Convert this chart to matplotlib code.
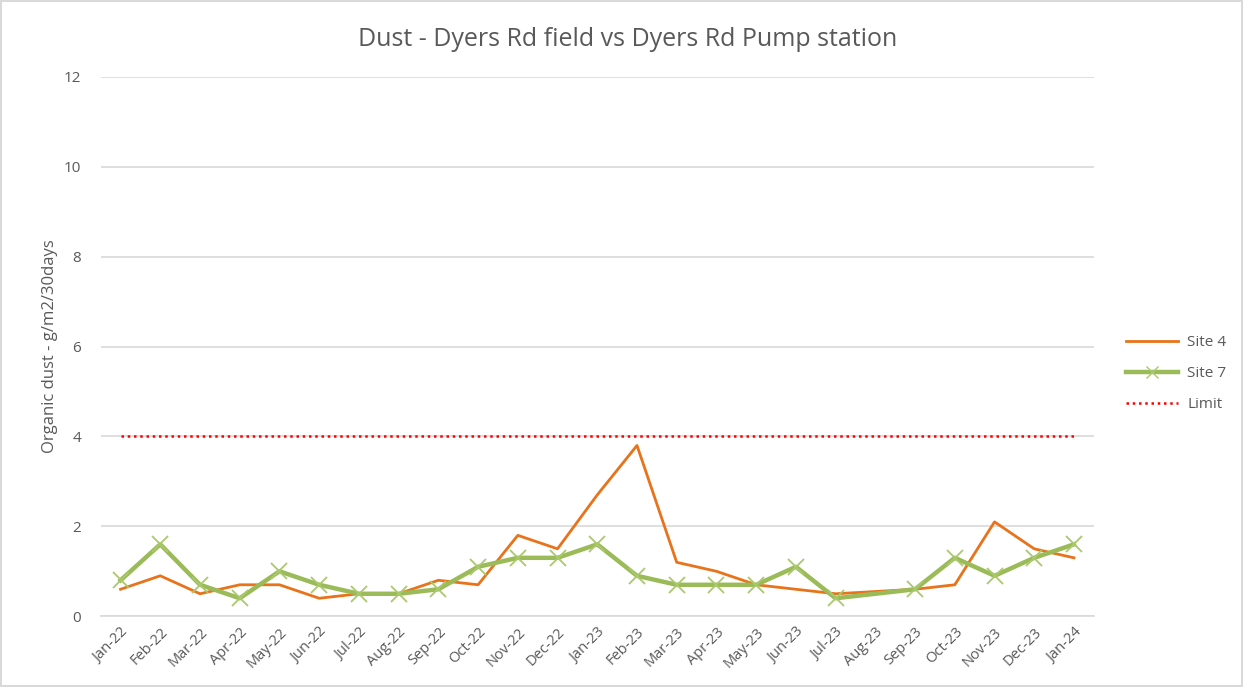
import numpy as np
import matplotlib.pyplot as plt
from matplotlib.lines import Line2D

plt.rcParams['font.family'] = ['Open Sans', 'DejaVu Sans']

months = ['Jan-22', 'Feb-22', 'Mar-22', 'Apr-22', 'May-22', 'Jun-22', 'Jul-22', 'Aug-22',
          'Sep-22', 'Oct-22', 'Nov-22', 'Dec-22', 'Jan-23', 'Feb-23', 'Mar-23', 'Apr-23',
          'May-23', 'Jun-23', 'Jul-23', 'Aug-23', 'Sep-23', 'Oct-23', 'Nov-23', 'Dec-23', 'Jan-24']
site4 = [0.6, 0.9, 0.5, 0.7, 0.7, 0.4, 0.5, 0.5, 0.8, 0.7, 1.8, 1.5, 2.7, 3.8, 1.2, 1.0,
         0.7, 0.6, 0.5, 0.55, 0.6, 0.7, 2.1, 1.5, 1.3]
site7 = [0.8, 1.6, 0.7, 0.4, 1.0, 0.7, 0.5, 0.5, 0.6, 1.1, 1.3, 1.3, 1.6, 0.9, 0.7, 0.7,
         0.7, 1.1, 0.4, np.nan, 0.6, 1.3, 0.9, 1.3, 1.6]
limit = [4] * len(months)

text_col = '#595959'
grid_col = '#d9d9d9'

fig = plt.figure(figsize=(12.43, 6.87), dpi=100)
fig.patch.set_edgecolor('#d9d9d9')
fig.patch.set_linewidth(1.5)
ax = fig.add_axes([0.081, 0.103, 0.799, 0.785])

x = np.arange(len(months))
s7 = np.array(site7)
ok = ~np.isnan(s7)

ax.plot(x, site4, color='#e8731a', lw=2, zorder=3)
ax.plot(x[ok], s7[ok], color='#9bbb59', lw=3.2, marker='x', ms=11, mew=1.3,
        mec='#a9c96c', zorder=4)
ax.plot(x, limit, color='#ff0000', lw=1.8, linestyle=(0, (1, 1.5)), zorder=2)

ax.set_xlim(-0.5, len(months) - 0.5)
ax.set_ylim(0, 12)
ax.set_yticks(np.arange(0, 13, 2))
ax.set_xticks(x)
ax.set_xticklabels(months, rotation=45, ha='right', rotation_mode='anchor')
ax.grid(axis='y', color=grid_col, lw=1.2)
ax.set_axisbelow(True)
for s in ['top', 'right', 'left']:
    ax.spines[s].set_visible(False)
ax.spines['bottom'].set_color(grid_col)
ax.spines['bottom'].set_linewidth(1.2)
ax.tick_params(axis='both', length=0, colors=text_col, labelsize=10.5)
ax.tick_params(axis='y', pad=14, labelsize=11)
ax.tick_params(axis='x', pad=6)

ax.set_ylabel('Organic dust - g/m2/30days', color=text_col, fontsize=12, labelpad=4)
fig.text(0.505, 0.943, 'Dust - Dyers Rd field vs Dyers Rd Pump station', color=text_col,
         fontsize=18, ha='center', va='center')

handles = [Line2D([], [], color='#e8731a', lw=2),
           Line2D([], [], color='#9bbb59', lw=3.2, marker='x', ms=8, mec='#a9c96c'),
           Line2D([], [], color='#ff0000', lw=1.8, linestyle=(0, (1, 1.5)))]
leg = fig.legend(handles, ['Site 4', 'Site 7', 'Limit'], loc='center left',
                 bbox_to_anchor=(0.906, 0.456), frameon=False, fontsize=11,
                 labelcolor=text_col, handlelength=3.4, handletextpad=0.6,
                 borderpad=0, borderaxespad=0, labelspacing=1.05)

fig.savefig('out.png', dpi=100, edgecolor=fig.get_edgecolor())
